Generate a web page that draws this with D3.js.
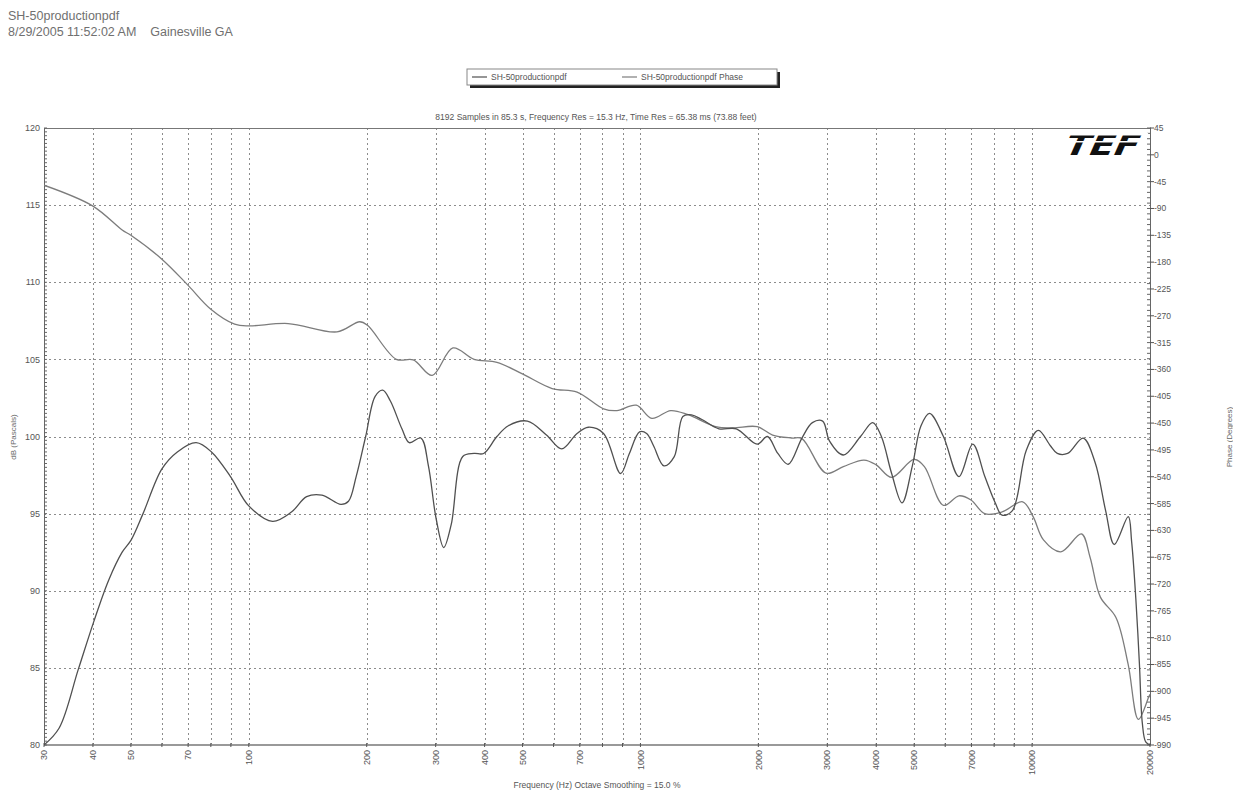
<!DOCTYPE html>
<meta charset="utf-8">
<html>
<head>
<style>
  body { margin: 0; background: #fff; }
  text { font-family: "Liberation Sans", Arial, sans-serif; }
</style>
</head>
<body>
<div id="chartContainer"></div>
<script src="https://cdnjs.cloudflare.com/ajax/libs/d3/7.8.5/d3.min.js"></script>
<script type="text/javascript">
  // magnitude curve (dB)
  var magFreq = [30, 32.8, 36.7, 40.2, 43.9, 47.5, 50.1, 53.7, 60, 65.7, 73.4, 80.3, 89.8, 100, 115, 128.5, 140.5, 153.7, 171.9, 179.7, 188, 198.8, 210.2, 219.8, 229.9, 246, 257, 275, 287.5, 300.7, 314.6, 328.8, 351.8, 376, 397.8, 430, 460, 514.6, 575.5, 629.5, 689, 736, 805, 890, 937, 995, 1037, 1080, 1148, 1220, 1283, 1350, 1435, 1586, 1757, 1986, 2110, 2243, 2384, 2584, 2748, 2919, 3040, 3296, 3647, 3917, 4122, 4379, 4655, 4946, 5204, 5472, 5937, 6504, 7055, 7574, 8050, 8381, 8909, 9660, 10373, 11136, 11596, 12325, 13502, 14490, 15407, 16210, 17600, 17950, 18400, 18790, 19120, 19500, 20000];
  var magDb = [80.0, 81.1, 84.9, 88.0, 90.7, 92.5, 93.3, 95.0, 97.9, 99.0, 99.6, 99.0, 97.4, 95.5, 94.5, 95.1, 96.1, 96.2, 95.6, 95.8, 97.4, 100.0, 102.6, 103.0, 102.3, 100.5, 99.6, 99.9, 98.1, 94.7, 92.8, 94.3, 98.7, 98.9, 98.9, 100.0, 100.7, 101.0, 100.1, 99.2, 100.2, 100.6, 100.2, 97.6, 98.9, 100.3, 100.2, 99.4, 98.1, 98.7, 101.3, 101.4, 101.1, 100.5, 100.5, 99.5, 100.0, 98.9, 98.2, 99.9, 100.9, 101.0, 99.7, 98.8, 100.0, 100.9, 100.0, 97.6, 95.7, 98.1, 100.7, 101.5, 100.0, 97.4, 99.5, 97.4, 95.7, 94.9, 95.2, 99.1, 100.4, 99.4, 98.9, 98.9, 99.9, 98.3, 95.2, 93.0, 94.8, 93.2, 89.5, 85.3, 81.4, 80.2, 80.0];

  // phase curve (degrees)
  var phaseFreq = [30, 40, 47.5, 50, 60, 70, 80, 92, 100, 126, 168, 192, 201, 238, 263, 294, 332, 376, 430, 498, 595, 689, 805, 871, 976, 1069, 1195, 1323, 1556, 1722, 1986, 2175, 2432, 2584, 2979, 3296, 3722, 3998, 4379, 4996, 5309, 5937, 6504, 6982, 7574, 8381, 9462, 10060, 10691, 11836, 13366, 14060, 14940, 16370, 17580, 18680, 19860, 20000];
  var phaseDeg = [-51, -86, -126, -135, -175, -219, -259, -284, -287, -283, -297, -280, -286, -343, -344, -370, -324, -343, -348, -367, -392, -398, -426, -429, -420, -442, -429, -436, -456, -458, -456, -470, -475, -476, -534, -523, -512, -520, -541, -511, -523, -588, -572, -579, -602, -599, -582, -607, -646, -666, -636, -675, -742, -776, -854, -947, -909, -905];

  var dbTicks = [80, 85, 90, 95, 100, 105, 110, 115, 120];
  var phaseTicks = [45, 0, -45, -90, -135, -180, -225, -270, -315, -360, -405, -450, -495, -540, -585, -630, -675, -720, -765, -810, -855, -900, -945, -990];
  var freqLabels = [30, 40, 50, 70, 100, 200, 300, 400, 500, 700, 1000, 2000, 3000, 4000, 5000, 7000, 10000, 20000];
  var gridFreqs = [40, 50, 60, 70, 80, 90, 100, 200, 300, 400, 500, 600, 700, 800, 900, 1000, 2000, 3000, 4000, 5000, 6000, 7000, 8000, 9000, 10000];

  var svg = d3.select("#chartContainer").append("svg")
    .attr("width", 1233).attr("height", 795)
    .style("background", "#fff");

  var plotLeft = 44, plotRight = 1150, plotTop = 128, plotBottom = 745;
  var x = d3.scaleLog().domain([30, 20000]).range([plotLeft, plotRight]);
  var yDb = d3.scaleLinear().domain([80, 120]).range([plotBottom, plotTop]);
  var yPh = d3.scaleLinear().domain([-990, 45]).range([plotBottom, plotTop]);

  // header
  svg.selectAll("header_text")
    .data(["SH-50productionpdf", "8/29/2005 11:52:02 AM\u00a0\u00a0\u00a0\u00a0Gainesville GA"])
    .enter().append("text")
      .attr("x", 8)
      .attr("y", function (d, i) { return 20 + i * 16; })
      .style("font-size", "12.5px")
      .style("fill", "#707070")
      .text(function (d) { return d; });

  // legend box with shadow
  svg.append("rect").attr("x", 470).attr("y", 72).attr("width", 310).attr("height", 16).style("fill", "#222");
  svg.append("rect").attr("x", 467).attr("y", 69).attr("width", 310).attr("height", 16)
    .style("fill", "#fff").style("stroke", "#888").style("stroke-width", 1);
  var legendItems = [
    { x: 472, label: "SH-50productionpdf", color: "#505050" },
    { x: 622, label: "SH-50productionpdf Phase", color: "#7c7c7c" }
  ];
  legendItems.forEach(function (d) {
    svg.append("line").attr("x1", d.x).attr("x2", d.x + 15).attr("y1", 77).attr("y2", 77)
      .style("stroke", d.color).style("stroke-width", 1.2);
    svg.append("text").attr("x", d.x + 19).attr("y", 80)
      .style("font-size", "8.5px").style("fill", "#555").text(d.label);
  });

  svg.append("text")
    .attr("x", 596).attr("y", 120)
    .attr("text-anchor", "middle")
    .style("font-size", "8.5px").style("fill", "#555")
    .text("8192 Samples in 85.3 s, Frequency Res = 15.3 Hz, Time Res = 65.38 ms (73.88 feet)");

  // grid
  var grid = svg.append("g").style("stroke", "#8c8c8c").style("stroke-dasharray", "2,3").style("stroke-width", 1);
  grid.selectAll("vgrid").data(gridFreqs).enter().append("line")
    .attr("x1", function (d) { return Math.round(x(d)) + 0.5; })
    .attr("x2", function (d) { return Math.round(x(d)) + 0.5; })
    .attr("y1", plotTop).attr("y2", plotBottom);
  grid.selectAll("hgrid").data(dbTicks.slice(1, -1)).enter().append("line")
    .attr("y1", function (d) { return Math.round(yDb(d)) + 0.5; })
    .attr("y2", function (d) { return Math.round(yDb(d)) + 0.5; })
    .attr("x1", plotLeft).attr("x2", plotRight);

  // frame
  svg.append("line").attr("x1", plotLeft).attr("x2", plotRight).attr("y1", plotTop + 0.5).attr("y2", plotTop + 0.5)
    .style("stroke", "#777").style("stroke-width", 1);
  svg.append("line").attr("x1", plotLeft + 0.5).attr("x2", plotLeft + 0.5).attr("y1", plotTop).attr("y2", plotBottom)
    .style("stroke", "#666").style("stroke-width", 1);
  svg.append("line").attr("x1", plotRight + 0.5).attr("x2", plotRight + 0.5).attr("y1", plotTop).attr("y2", plotBottom)
    .style("stroke", "#666").style("stroke-width", 1);
  svg.append("line").attr("x1", plotLeft).attr("x2", plotRight).attr("y1", plotBottom).attr("y2", plotBottom)
    .style("stroke", "#999").style("stroke-width", 2);

  // minor ticks on both vertical axes
  svg.selectAll("ltick").data(d3.range(80, 120.001, 0.25)).enter().append("line")
    .attr("x1", plotLeft).attr("x2", plotLeft + 3)
    .attr("y1", function (d) { return yDb(d); }).attr("y2", function (d) { return yDb(d); })
    .style("stroke", "#666");
  svg.selectAll("rtick").data(d3.range(-990, 45.001, 9)).enter().append("line")
    .attr("x1", plotRight - 3).attr("x2", plotRight + 1)
    .attr("y1", function (d) { return yPh(d); }).attr("y2", function (d) { return yPh(d); })
    .style("stroke", "#666");
  svg.selectAll("rmajor").data(phaseTicks).enter().append("line")
    .attr("x1", plotRight).attr("x2", plotRight + 4)
    .attr("y1", function (d) { return yPh(d); }).attr("y2", function (d) { return yPh(d); })
    .style("stroke", "#555");
  svg.selectAll("btick").data(gridFreqs.concat([30, 20000])).enter().append("line")
    .attr("x1", function (d) { return x(d); }).attr("x2", function (d) { return x(d); })
    .attr("y1", plotBottom - 2).attr("y2", plotBottom + 2)
    .style("stroke", "#555");

  // tick labels
  svg.selectAll("dblabel").data(dbTicks).enter().append("text")
    .attr("x", 40).attr("y", function (d) { return yDb(d); }).attr("dy", "0.35em")
    .attr("text-anchor", "end")
    .style("font-size", "9px").style("fill", "#555")
    .text(function (d) { return d; });
  svg.selectAll("phlabel").data(phaseTicks).enter().append("text")
    .attr("x", plotRight + 4).attr("y", function (d) { return yPh(d); }).attr("dy", "0.35em")
    .style("font-size", "8.5px").style("fill", "#555")
    .text(function (d) { return d; });
  svg.selectAll("flabel").data(freqLabels).enter().append("text")
    .attr("transform", function (d) { return "translate(" + x(d) + "," + (plotBottom + 5) + ") rotate(-90)"; })
    .attr("dy", "0.35em")
    .attr("text-anchor", "end")
    .style("font-size", "9px").style("fill", "#555")
    .text(function (d) { return d; });

  // axis titles
  svg.append("text")
    .attr("transform", "translate(13,437) rotate(-90)")
    .attr("text-anchor", "middle").attr("dy", "0.35em")
    .style("font-size", "8px").style("fill", "#666")
    .text("dB (Pascals)");
  svg.append("text")
    .attr("transform", "translate(1229,437) rotate(-90)")
    .attr("text-anchor", "middle").attr("dy", "0.35em")
    .style("font-size", "8px").style("fill", "#666")
    .text("Phase (Degrees)");
  svg.append("text")
    .attr("x", 597).attr("y", 788).attr("text-anchor", "middle")
    .style("font-size", "8.5px").style("fill", "#555")
    .text("Frequency (Hz) Octave Smoothing = 15.0 %");

  // TEF logo
  var logo = svg.append("g").attr("transform", "translate(1103,145) skewX(-24)");
  logo.append("text")
    .attr("x", 0).attr("y", 10).attr("text-anchor", "middle")
    .style("font-family", "'DejaVu Sans', sans-serif")
    .style("font-weight", "900").style("font-size", "29px")
    .attr("textLength", 74).attr("lengthAdjust", "spacingAndGlyphs")
    .style("fill", "#111").text("TEF");
  logo.append("rect").attr("x", -40).attr("y", -12).attr("width", 80).attr("height", 2.5).style("fill", "#fff");
  logo.append("rect").attr("x", -40).attr("y", -4).attr("width", 80).attr("height", 1.5).style("fill", "#fff");

  // curves
  svg.append("clipPath").attr("id", "plotClip").append("rect")
    .attr("x", plotLeft).attr("y", plotTop).attr("width", plotRight - plotLeft + 1).attr("height", plotBottom - plotTop + 1);

  var magData = magFreq.map(function (f, i) { return [f, magDb[i]]; });
  var phaseData = phaseFreq.map(function (f, i) { return [f, phaseDeg[i]]; });

  var magLine = d3.line()
    .x(function (d) { return x(d[0]); })
    .y(function (d) { return yDb(d[1]); })
    .curve(d3.curveCatmullRom.alpha(0.5));
  var phaseLine = d3.line()
    .x(function (d) { return x(d[0]); })
    .y(function (d) { return yPh(d[1]); })
    .curve(d3.curveCatmullRom.alpha(0.5));

  var curves = svg.append("g").attr("clip-path", "url(#plotClip)");
  curves.append("path").datum(phaseData).attr("d", phaseLine)
    .style("fill", "none").style("stroke", "#7c7c7c").style("stroke-width", 1.3);
  curves.append("path").datum(magData).attr("d", magLine)
    .style("fill", "none").style("stroke", "#505050").style("stroke-width", 1.3);
</script>
</body>
</html>
